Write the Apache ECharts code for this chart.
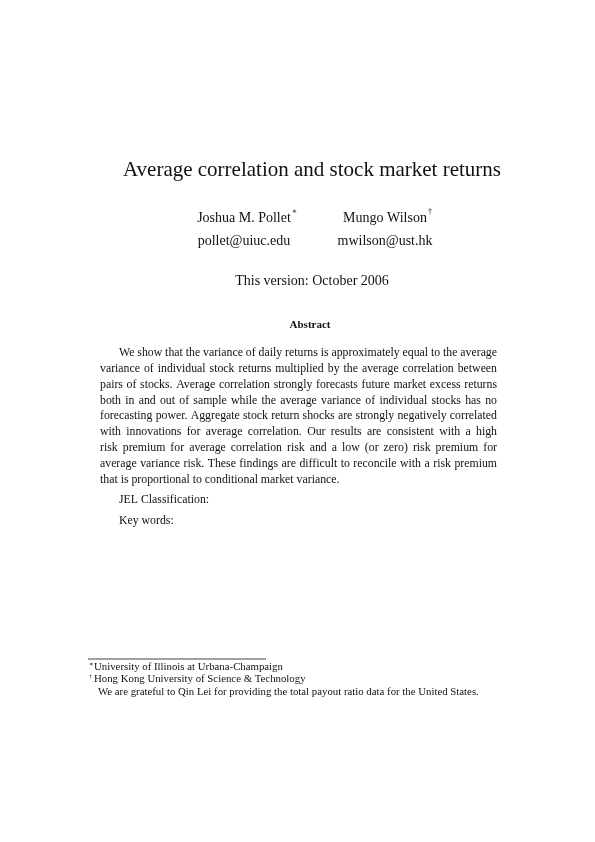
<!DOCTYPE html>
<html>
<head>
<meta charset="utf-8">
<title>Average correlation and stock market returns</title>
<script src="https://cdn.jsdelivr.net/npm/echarts@6/dist/echarts.min.js"></script>
<style>
  html, body { margin: 0; padding: 0; background: #fff; }
  #page { width: 595px; height: 842px; }
</style>
</head>
<body>
<div id="page"></div>
<script>
var titleText = 'Average correlation and stock market returns';
var authors = [['Joshua M. Pollet', '∗', 'pollet@uiuc.edu'], ['Mungo Wilson', '†', 'mwilson@ust.hk']];
var versionText = 'This version: October 2006';
var abstractLines = [
  'We show that the variance of daily returns is approximately equal to the average',
  'variance of individual stock returns multiplied by the average correlation between',
  'pairs of stocks. Average correlation strongly forecasts future market excess returns',
  'both in and out of sample while the average variance of individual stocks has no',
  'forecasting power. Aggregate stock return shocks are strongly negatively correlated',
  'with innovations for average correlation. Our results are consistent with a high',
  'risk premium for average correlation risk and a low (or zero) risk premium for',
  'average variance risk. These findings are difficult to reconcile with a risk premium',
  'that is proportional to conditional market variance.'
];
var footnotes = [
  ['∗', 'University of Illinois at Urbana-Champaign'],
  ['†', 'Hong Kong University of Science & Technology'],
  ['', 'We are grateful to Qin Lei for providing the total payout ratio data for the United States.']
];

var serif = '"Liberation Serif", "DejaVu Serif", serif';
var ctx = document.createElement('canvas').getContext('2d');
var els = [];
function txt(x, y, s, size, opts) {
  opts = opts || {};
  els.push({ type: 'text', x: x, y: y, style: {
    text: s, font: (opts.bold ? 'bold ' : '') + size + 'px ' + serif,
    fill: '#111', textAlign: opts.align || 'left', textVerticalAlign: 'middle' } });
}
function justified(x0, x1, y, line, size) {
  var words = line.split(' ');
  ctx.font = size + 'px ' + serif;
  var total = 0;
  words.forEach(function (w) { total += ctx.measureText(w).width; });
  var gap = (x1 - x0 - total) / (words.length - 1);
  var x = x0;
  words.forEach(function (w) { txt(x, y, w, size); x += ctx.measureText(w).width + gap; });
}

txt(312, 170, titleText, 21, { align: 'center' });
[[244, authors[0]], [385, authors[1]]].forEach(function (a) {
  txt(a[0], 218, a[1][0], 14, { align: 'center' });
  ctx.font = '14px ' + serif;
  txt(a[0] + ctx.measureText(a[1][0]).width / 2 + 1, 212, a[1][1], 8);
  txt(a[0], 241, a[1][2], 14, { align: 'center' });
});
txt(312, 281, versionText, 14, { align: 'center' });
txt(310, 325, 'Abstract', 11, { align: 'center', bold: true });

var y = 353;
abstractLines.forEach(function (l, i) {
  var x0 = i === 0 ? 119 : 100;
  if (i === abstractLines.length - 1) txt(x0, y, l, 11.8);
  else justified(x0, 497, y, l, 11.8);
  y += 15.8;
});
txt(119, 500, 'JEL Classification:', 11.8);
txt(119, 521, 'Key words:', 11.8);

els.push({ type: 'line', shape: { x1: 88, y1: 659, x2: 266, y2: 659 }, style: { stroke: '#111', lineWidth: 0.8 } });
footnotes.forEach(function (f, i) {
  var fy = 667 + i * 12.5;
  if (f[0]) txt(89, fy - 3, f[0], 6.5);
  txt(i === 2 ? 98 : 94, fy, f[1], 10.8);
});

var chart = echarts.init(document.getElementById('page'), null, { renderer: 'canvas' });
chart.setOption({ animation: false, graphic: els });
</script>
</body>
</html>
